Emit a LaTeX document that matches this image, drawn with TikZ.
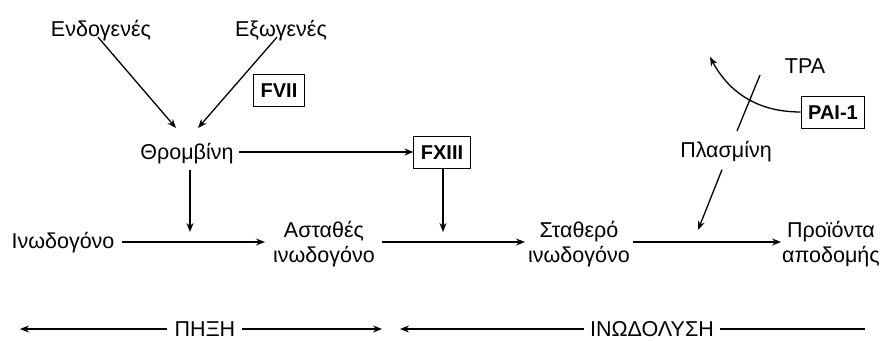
\documentclass[tikz,border=0pt]{standalone}
\usepackage{fontspec}
\setmainfont{Liberation Sans}
\usetikzlibrary{arrows.meta}
\begin{document}
\begin{tikzpicture}[x=1pt,y=-1pt,
  lbl/.style={font=\fontsize{21.5}{25}\selectfont, inner sep=0pt, anchor=base, align=center},
  fbox/.style={draw, line width=1pt, font=\fontsize{20}{24}\selectfont\bfseries, inner xsep=7pt, inner ysep=0pt, text height=15pt, text depth=0pt, minimum height=32pt},
  arr/.style={line width=1.3pt, -{Stealth[length=9pt,width=7pt]}},
  ln/.style={line width=1.3pt}]
\useasboundingbox (0,0) rectangle (885,340);
% labels
\node[lbl] (endo) at (101,36) {Ενδογενές};
\node[lbl] (exo) at (281,36) {Εξωγενές};
\node[fbox] (fvii) at (279,90) {FVII};
\node[lbl] (thr) at (187,159) {Θρομβίνη};
\node[fbox] (fxiii) at (442,152) {FXIII};
\node[lbl] (ino) at (63,248) {Ινωδογόνο};
\node[lbl] (ast) at (324,262) {Ασταθές\\ινωδογόνο};
\node[lbl] (sta) at (579,262) {Σταθερό\\ινωδογόνο};
\node[lbl] (pro) at (831,262) {Προϊόντα\\αποδομής};
\node[lbl] (tpa) at (805,73) {TPA};
\node[fbox] (pai) at (833,112) {PAI-1};
\node[lbl] (pla) at (726,157) {Πλασμίνη};
\coordinate (row) at (0,242);
% top arrows
\draw[arr] (endo) ++(-3,7) coordinate (e1) -- (176,128) coordinate (t1);
\draw[arr] (exo) ++(-4,7) coordinate (e2) -- (198,128) coordinate (t2);
\draw[arr] (thr.east |- fxiii) ++(5,0) -- (fxiii.west);
% vertical arrows
\coordinate (v1) at (190,232);
\coordinate (v2) at (443,232);
\draw[arr] (v1 |- thr.south) ++(0,6) -- (v1);
\draw[arr] (fxiii.south -| v2) -- (v2);
% row arrows
\draw[arr] ([xshift=7pt]ino.east |- row) -- ([xshift=-8pt]ast.west |- row);
\draw[arr] ([xshift=7pt]ast.east |- row) -- ([xshift=-3pt]sta.west |- row);
\draw[arr] ([xshift=3pt]sta.east |- row) -- ([xshift=-1pt]pro.west |- row);
% fibrinolysis part
\coordinate (tip) at (710,57);
\draw[arr] (pai.west) .. controls (750,112) and (725,85) .. (tip);
\coordinate (la) at (760,75);
\coordinate (lb) at (737,131);
\draw[ln] (la) -- (lb);
\coordinate (pt) at (698,230);
\draw[arr] (pla.south) ++(-4,8) -- (pt);
% bottom
\node[lbl, text depth=0pt] (pix) at (205,336) {ΠΗΞΗ};
\node[lbl, text depth=0pt] (ind) at (652,336) {ΙΝΩΔΟΛΥΣΗ};
\coordinate (b) at (0,329);
\coordinate (bl) at (20,329);
\coordinate (br) at (382,329);
\coordinate (cl) at (400,329);
\coordinate (cr) at (865,329);
\draw[arr] ([xshift=-8pt]pix.west |- b) -- (bl);
\draw[arr] ([xshift=7pt]pix.east |- b) -- (br);
\draw[arr] ([xshift=-6pt]ind.west |- b) -- (cl);
\draw[ln] ([xshift=6pt]ind.east |- b) -- (cr);
\end{tikzpicture}
\end{document}
